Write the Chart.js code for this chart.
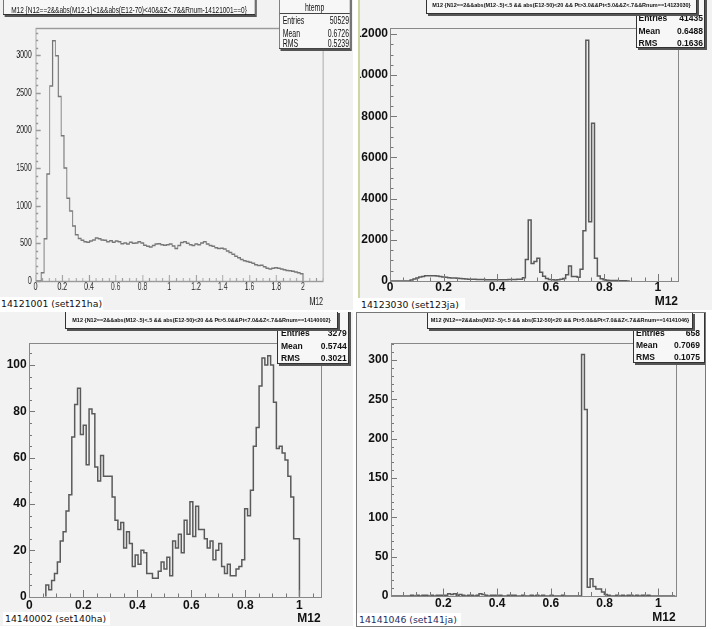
<!DOCTYPE html>
<html><head><meta charset="utf-8">
<script src="https://cdn.jsdelivr.net/npm/chart.js@4.4.1/dist/chart.umd.min.js"></script>
<style>
html,body{margin:0;padding:0;background:#fff;}
body{width:712px;height:629px;position:relative;overflow:hidden;font-family:'Liberation Sans',Arial,sans-serif;}
.panel{position:absolute;background:#f2f2f2;overflow:hidden;}
.panel canvas{position:absolute;left:0;top:0;}
.pave{position:absolute;background:#f7f7f7;border:1px solid #333;box-shadow:2px 2px 0 #555;box-sizing:border-box;}
.ctr{position:absolute;left:0;right:0;text-align:center;white-space:nowrap;line-height:1;color:#111;}
.row{position:absolute;display:flex;justify-content:space-between;white-space:nowrap;line-height:1;color:#111;}
.cap{position:absolute;background:#fff;font-family:'DejaVu Sans',sans-serif;font-size:9.3px;line-height:13px;height:13px;color:#111;white-space:nowrap;box-sizing:border-box;}
.bord{position:absolute;box-sizing:border-box;pointer-events:none;}
</style></head>
<body>

<!-- Panel A -->
<div class="panel" style="left:0;top:0;width:353px;height:310px;">
  <div style="position:absolute;left:0;top:0;width:535px;height:310px;transform:scaleX(0.66);transform-origin:0 0;">
    <canvas id="cA" width="535" height="310"></canvas>
    <div class="pave" style="left:4.5px;top:-3px;width:382px;height:18px;">
      <div class="ctr" id="tA" style="top:6.5px;font-size:9.8px;"></div>
    </div>
    <div class="pave" style="left:422.7px;top:-2px;width:108px;height:51.3px;border-color:#444;">
      <div class="ctr" style="top:3.2px;font-size:10.5px;">htemp</div>
      <div style="position:absolute;left:0;right:0;top:14.3px;height:1px;background:#444;"></div>
      <div class="row" style="left:4.6px;width:100.5px;top:15.9px;font-size:10.5px;"><span>Entries</span><span id="eA"></span></div>
      <div class="row" style="left:4.6px;width:100.5px;top:28.6px;font-size:10.5px;"><span>Mean</span><span id="mA"></span></div>
      <div class="row" style="left:4.6px;width:100.5px;top:39.2px;font-size:10.5px;"><span>RMS</span><span id="rA"></span></div>
    </div>
  </div>
  <div class="cap" style="left:0;top:297px;width:103px;padding-left:1px;">14121001 (set121ha)</div>
</div>

<!-- Panel B -->
<div class="panel" style="left:357px;top:0;width:355px;height:310px;">
  <canvas id="cB" width="372" height="310" style="left:-17px;"></canvas>
  <div class="bord" style="left:0;top:0;width:1px;height:310px;background:#fff;"></div>
  <div class="bord" style="left:1px;top:0;width:2px;height:298px;background:#cfd6a2;"></div>
  <div class="pave" style="left:278.5px;top:-3px;width:69.5px;height:51.3px;">
    <div class="row" style="left:2px;width:64.5px;top:15.5px;font-size:8.5px;font-weight:bold;"><span>Entries</span><span id="eB"></span></div>
    <div class="row" style="left:2px;width:64.5px;top:28.5px;font-size:8.5px;font-weight:bold;"><span>Mean</span><span id="mB"></span></div>
    <div class="row" style="left:2px;width:64.5px;top:40.5px;font-size:8.5px;font-weight:bold;"><span>RMS</span><span id="rB"></span></div>
  </div>
  <div class="pave" style="left:69px;top:-3px;width:271px;height:17px;">
    <div class="ctr" id="tB" style="top:5.3px;font-size:5.5px;font-weight:bold;"></div>
  </div>
  <div class="cap" style="left:1px;top:298px;width:107px;padding-left:3px;">14123030 (set123ja)</div>
</div>

<!-- Panel C -->
<div class="panel" style="left:0;top:312px;width:353px;height:314px;">
  <canvas id="cC" width="353" height="314"></canvas>
  <div class="pave" style="left:277px;top:-2px;width:72px;height:54.3px;">
    <div class="row" style="left:3px;width:65.7px;top:18.1px;font-size:8.5px;font-weight:bold;"><span>Entries</span><span id="eC"></span></div>
    <div class="row" style="left:3px;width:65.7px;top:30.8px;font-size:8.5px;font-weight:bold;"><span>Mean</span><span id="mC"></span></div>
    <div class="row" style="left:3px;width:65.7px;top:43.1px;font-size:8.5px;font-weight:bold;"><span>RMS</span><span id="rC"></span></div>
  </div>
  <div class="pave" style="left:65px;top:-1px;width:273px;height:18px;">
    <div class="ctr" id="tC" style="top:6.3px;font-size:5.5px;font-weight:bold;"></div>
  </div>
  <div class="cap" style="left:3px;top:300px;width:107px;padding-left:2px;">14140002 (set140ha)</div>
</div>

<!-- Panel D -->
<div class="panel" style="left:356px;top:312px;width:350px;height:315px;">
  <canvas id="cD" width="350" height="315"></canvas>
  <div class="pave" style="left:277px;top:-2px;width:72px;height:52.7px;">
    <div class="row" style="left:2px;width:64px;top:17.5px;font-size:8.5px;font-weight:bold;"><span>Entries</span><span id="eD"></span></div>
    <div class="row" style="left:2px;width:64px;top:29.8px;font-size:8.5px;font-weight:bold;"><span>Mean</span><span id="mD"></span></div>
    <div class="row" style="left:2px;width:64px;top:42.1px;font-size:8.5px;font-weight:bold;"><span>RMS</span><span id="rD"></span></div>
  </div>
  <div class="pave" style="left:70.7px;top:-0.5px;width:266.6px;height:17px;">
    <div class="ctr" id="tD" style="top:5.5px;font-size:5.5px;font-weight:bold;"></div>
  </div>
  <div class="cap" style="left:1px;top:301px;width:104px;padding-left:2px;color:#1c2f66;">14141046 (set141ja)</div>
  <div class="bord" style="left:0;top:0;width:350px;height:315px;border:1px solid #777;"></div>
</div>

<script>
// ---------- DATA ----------
// Panel A: 14121001 (set121ha)
const titleA = "M12 {N12==2&&abs(M12-1)<1&&abs(E12-70)<40&&Z<.7&&Rnum-14121001==0}";
const statsA = ["50529", "0.6726", "0.5239"];
const binStartA = 0;
const binWidthA = 0.02128;
const countsA = [0,0,110,560,1420,2590,3190,2990,2450,1930,1500,1100,930,730,615,565,540,520,515,530,545,570,560,545,540,520,535,515,530,520,495,505,490,515,500,505,520,505,475,460,450,470,490,495,480,475,480,490,465,430,470,510,520,500,480,470,490,480,505,520,490,470,460,440,430,435,425,400,380,355,330,310,285,270,260,250,235,215,205,210,190,170,160,170,175,170,160,150,140,135,130,120,110,95];
const xTicksA = [0,0.2,0.4,0.6,0.8,1,1.2,1.4,1.6,1.8,2];
const yTicksA = [0,500,1000,1500,2000,2500,3000];

// Panel B: 14123030 (set123ja)
const titleB = "M12 {N12==2&&abs(M12-.5)<.5 && abs(E12-50)<20 && Pt>3.0&&Pt<5.0&&Z<.7&&Rnum==14123030}";
const statsB = ["41435", "0.6488", "0.1636"];
const binStartB = 0;
const binWidthB = 0.01075;
const countsB = [0,0,0,0,0,0,0,50,100,150,190,220,250,260,260,250,240,220,200,180,160,150,140,130,120,110,100,90,85,80,75,70,70,65,60,60,60,65,60,60,65,70,70,75,80,90,160,1050,2960,850,950,1100,420,230,120,70,60,50,60,80,120,300,730,220,220,180,570,2440,11700,2880,7660,1100,240,110,60,40,30,25,20,15,10,8,5];
const xTicksB = [0,0.2,0.4,0.6,0.8,1];
const yTicksB = [0,2000,4000,6000,8000,10000,12000];

// Panel C: 14140002 (set140ha)
const titleC = "M12 {N12==2&&abs(M12-.5)<.5 && abs(E12-50)<20 && Pt>5.0&&Pt<7.0&&Z<.7&&Rnum==14140002}";
const statsC = ["3279", "0.5744", "0.3021"];
const binStartC = 0.0613;
const binWidthC = 0.01067;
const countsC = [5,3,7,10,15,24,28,37,44,69,83,90,70,74,57,81,79,56,50,61,52,52,52,43,33,29,32,21,28,23,13,18,14,20,19,10,10,8,8,11,15,12,17,9,24,21,27,19,33,27,41,26,39,29,29,25,21,24,16,20,23,13,10,14,9,9,12,13,16,38,35,46,65,73,91,103,100,104,100,84,64,65,62,59,52,43,25,25];
const xTicksC = [0,0.2,0.4,0.6,0.8,1];
const yTicksC = [0,20,40,60,80,100];

// Panel D: 14141046 (set141ja)
const titleD = "M12 {N12==2&&abs(M12-.5)<.5 && abs(E12-50)<20 && Pt>5.0&&Pt<7.0&&Z<.7&&Rnum==14141046}";
const statsD = ["658", "0.7069", "0.1075"];
const binStartD = 0.0043;
const binWidthD = 0.0106;
const countsD = [0,0,0,0,0,0,0,1,0,1, 0,1,1,0,1,0,1,1,1,1, 3,2,3,1,2,1,0,1,1,0, 1,3,2,1,0,1,1,0,1,0, 0,1,1,1,0,0,1,0,0,1, 0,1,0,1,0,0,1,0,0,0, 1,0,0,0,0,0,0,307,237,11, 22,12,9,9,5,2,1,0,0,1, 0,1,0,1,1,0,1,0,1,0, 1,0,0,0,0,0,0,0,0,0];
const xTicksD = [0.2,0.4,0.6,0.8,1];
const yTicksD = [0,50,100,150,200,250,300];

// ---------- TEXT ----------
function setTxt(id, t){ document.getElementById(id).textContent = t; }
setTxt('tA', titleA); setTxt('tB', titleB); setTxt('tC', titleC); setTxt('tD', titleD);
[['A',statsA],['B',statsB],['C',statsC],['D',statsD]].forEach(([k,s])=>{
  setTxt('e'+k, s[0]); setTxt('m'+k, s[1]); setTxt('r'+k, s[2]);
});

// ---------- HELPERS ----------
function histPoints(start, width, counts){
  const pts = [{x:start, y:0}];
  counts.forEach((c,i)=>pts.push({x:start + i*width, y:c}));
  pts.push({x:start + counts.length*width, y:0});
  return pts;
}

const rootAxes = {
  id: 'rootAxes',
  afterDatasetsDraw(chart, args, o){
    const ctx = chart.ctx, a = chart.chartArea;
    const xs = chart.scales.x, ys = chart.scales.y;
    const majX = xs.ticks.map(t=>t.value), majY = ys.ticks.map(t=>t.value);
    const near = (arr, v, eps) => arr.some(m => Math.abs(m - v) < eps);
    ctx.save();
    ctx.lineWidth = o.lw;
    ctx.strokeStyle = o.tickColor;
    ctx.beginPath();
    const L = Math.round(a.left), R = Math.round(a.right), T = Math.round(a.top), B = Math.round(a.bottom);
    for (let i = Math.ceil(xs.min / o.xMinor - 1e-6); i * o.xMinor <= xs.max + 1e-9; i++){
      const v = i * o.xMinor;
      const len = near(majX, v, o.xMinor/10) ? o.xMaj : o.xMin;
      const px = Math.round(xs.getPixelForValue(v)) + 0.5;
      ctx.moveTo(px, B); ctx.lineTo(px, B - len);
    }
    for (let i = Math.ceil(ys.min / o.yMinor - 1e-6); i * o.yMinor <= ys.max + 1e-9; i++){
      const v = i * o.yMinor;
      const len = near(majY, v, o.yMinor/10) ? o.yMaj : o.yMin;
      const py = Math.round(ys.getPixelForValue(v)) + 0.5;
      ctx.moveTo(L, py); ctx.lineTo(L + len, py);
    }
    ctx.stroke();
    ctx.strokeStyle = o.frameColor;
    ctx.strokeRect(L + 0.5, T + 0.5, R - L, B - T);
    ctx.restore();
  }
};

function makeHist(id, P){
  return new Chart(document.getElementById(id), {
    type: 'line',
    data: { datasets: [{
      data: histPoints(P.start, P.width, P.counts),
      stepped: true, borderColor: P.lineColor, borderWidth: P.lineWidth,
      pointRadius: 0, pointHoverRadius: 0, fill: false, tension: 0
    }]},
    options: {
      responsive: false, animation: false, devicePixelRatio: 1,
      events: [],
      layout: { padding: { left: 0, top: P.padTop, right: P.padRight, bottom: P.padBottom } },
      plugins: { legend: {display:false}, tooltip: {enabled:false}, rootAxes: P.axes },
      scales: {
        x: {
          type: 'linear', min: P.xMin, max: P.xMax,
          grid: {display:false, drawTicks:false}, border: {display:false},
          afterBuildTicks: s => { s.ticks = P.xTicks.map(v => ({value:v})); },
          afterFit: s => { s.height = P.xHeight; },
          ticks: { autoSkip:false, maxRotation:0, minRotation:0, padding:P.xPad, color:P.tickColor, font:P.tickFont, callback: v => String(v) },
          title: { display:true, text:'M12', align:'end', color:P.tickColor, font:P.tickFont, padding:{top:0,bottom:0} }
        },
        y: {
          type: 'linear', min: 0, max: P.yMax,
          grid: {display:false, drawTicks:false}, border: {display:false},
          afterBuildTicks: s => { s.ticks = P.yTicks.map(v => ({value:v})); },
          afterFit: s => { s.width = P.yWidth; },
          ticks: { autoSkip:false, padding:P.yPad, color:P.tickColor, font:P.tickFont, callback: v => String(v) }
        }
      }
    },
    plugins: [rootAxes]
  });
}

const boldFont = {family:"'Liberation Sans', Arial, sans-serif", size:12, weight:'bold', lineHeight:1};

makeHist('cA', {
  start: binStartA, width: binWidthA, counts: countsA, xTicks: xTicksA, yTicks: yTicksA,
  xMin: 0, xMax: 2.15, yMax: 3360,
  padTop: 28, padRight: 45.6, padBottom: 3, yWidth: 53.8, xHeight: 26,
  xPad: 0.75, yPad: 5.8, lineColor: '#777', lineWidth: 1.5,
  tickColor: '#222', tickFont: {family:"'Liberation Sans', Arial, sans-serif", size:10.5, weight:'normal', lineHeight:1},
  axes: {xMinor:0.05, yMinor:100, xMaj:6, xMin:3, yMaj:7.6, yMin:4, lw:1.4, tickColor:'#999', frameColor:'#9a9a9a'}
});

makeHist('cB', {
  start: binStartB, width: binWidthB, counts: countsB, xTicks: xTicksB, yTicks: yTicksB,
  xMin: 0, xMax: 1.075, yMax: 12290,
  padTop: 28, padRight: 34, padBottom: 2, yWidth: 50, xHeight: 27,
  xPad: 0.5, yPad: 2, lineColor: '#5a5a5a', lineWidth: 1.5,
  tickColor: '#111', tickFont: boldFont,
  axes: {xMinor:0.05, yMinor:500, xMaj:7, xMin:3.5, yMaj:7, yMin:3.5, lw:1, tickColor:'#777', frameColor:'#888'}
});

makeHist('cC', {
  start: binStartC, width: binWidthC, counts: countsC, xTicks: xTicksC, yTicks: yTicksC,
  xMin: 0, xMax: 1.079, yMax: 109.4,
  padTop: 31.3, padRight: 32.3, padBottom: 1, yWidth: 29.3, xHeight: 28.3,
  xPad: 2.6, yPad: 2.6, lineColor: '#5a5a5a', lineWidth: 1.5,
  tickColor: '#111', tickFont: boldFont,
  axes: {xMinor:0.05, yMinor:5, xMaj:7, xMin:3.5, yMaj:6, yMin:3, lw:1, tickColor:'#777', frameColor:'#888'}
});

makeHist('cD', {
  start: binStartD, width: binWidthD, counts: countsD, xTicks: xTicksD, yTicks: yTicksD,
  xMin: 0.0043, xMax: 1.0647, yMax: 322,
  padTop: 30.7, padRight: 30.3, padBottom: 3.3, yWidth: 34.7, xHeight: 27.7,
  xPad: 1.8, yPad: 2.4, lineColor: '#5a5a5a', lineWidth: 1.5,
  tickColor: '#111', tickFont: boldFont,
  axes: {xMinor:0.05, yMinor:10, xMaj:7.5, xMin:4, yMaj:6, yMin:3, lw:1, tickColor:'#777', frameColor:'#888'}
});
</script>
</body></html>
